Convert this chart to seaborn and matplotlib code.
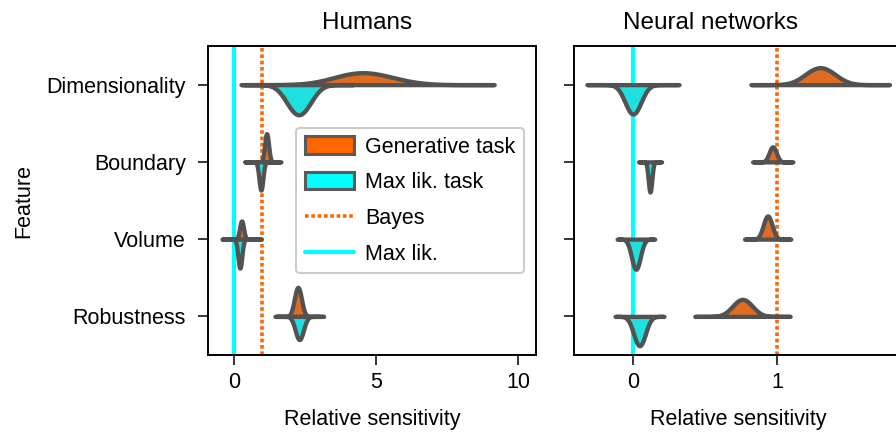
import numpy as np
import pandas as pd
import matplotlib
matplotlib.use("Agg")
import matplotlib.pyplot as plt
from matplotlib.patches import Patch
from matplotlib.lines import Line2D
import seaborn as sns

# ---------------- data ----------------
features = ["Dimensionality", "Boundary", "Volume", "Robustness"]
tasks = ["Generative task", "Max lik. task"]
panels = ["Humans", "Neural networks"]

# samples of relative sensitivity, one list per feature (order = features)
humans_generative = [
    [3.95, 4.2, 4.5, 4.85, 5.45],
    [1.10, 1.125, 1.15, 1.175, 1.20],
    [0.22, 0.245, 0.27, 0.295, 0.32],
    [2.16, 2.205, 2.25, 2.295, 2.34],
]
humans_maxlik = [
    [1.98, 2.13, 2.28, 2.43, 2.58],
    [0.90, 0.925, 0.95, 0.975, 1.00],
    [0.16, 0.185, 0.21, 0.235, 0.26],
    [2.196, 2.248, 2.30, 2.352, 2.404],
]
networks_generative = [
    [1.226, 1.263, 1.30, 1.337, 1.374],
    [0.952, 0.961, 0.97, 0.979, 0.988],
    [0.913, 0.924, 0.935, 0.946, 0.957],
    [0.711, 0.735, 0.76, 0.785, 0.809],
]
networks_maxlik = [
    [-0.04, -0.02, 0.0, 0.02, 0.04],
    [0.109, 0.1135, 0.118, 0.1225, 0.127],
    [-0.002, 0.009, 0.02, 0.031, 0.042],
    [0.016, 0.030, 0.045, 0.060, 0.074],
]

bayes_value = 1.0
maxlik_value = 0.0

# ---------------- style (per-violin drawing parameters) ----------------
cut_style = {
    ("Humans", "Generative task"): [4.35, 7.9, 11.0, 6.4],
    ("Humans", "Max lik. task"): [4.7, 8.9, 9.6, 6.3],
    ("Neural networks", "Generative task"): [4.8, 5.9, 5.5, 5.0],
    ("Neural networks", "Max lik. task"): [6.1, 6.9, 4.3, 4.2],
}
width_style = {
    ("Humans", "Generative task"): [0.31, 0.73, 0.47, 0.75],
    ("Humans", "Max lik. task"): [0.78, 0.73, 0.75, 0.60],
    ("Neural networks", "Generative task"): [0.44, 0.39, 0.60, 0.44],
    ("Neural networks", "Max lik. task"): [0.76, 0.78, 0.78, 0.76],
}
BW_ADJUST = 2.0

ORANGE = "#FF6600"
CYAN = "#00FFFF"
GRAY = "#525252"
palette = {tasks[0]: ORANGE, tasks[1]: CYAN}

sns.set_style("ticks")
plt.rcParams["font.family"] = ["Liberation Sans", "DejaVu Sans"]
plt.rcParams.update({
    "text.color": "black", "axes.labelcolor": "black",
    "xtick.color": "black", "ytick.color": "black", "axes.edgecolor": "black",
})
FS = 15.5

data_map = {
    ("Humans", "Generative task"): humans_generative,
    ("Humans", "Max lik. task"): humans_maxlik,
    ("Neural networks", "Generative task"): networks_generative,
    ("Neural networks", "Max lik. task"): networks_maxlik,
}

fig = plt.figure(figsize=(8.96, 4.32), dpi=100)
ax_h = fig.add_axes([208 / 896, 77 / 432, 328 / 896, 309 / 432])
ax_n = fig.add_axes([574 / 896, 77 / 432, 328 / 896, 309 / 432])
axes = {"Humans": ax_h, "Neural networks": ax_n}

for panel, ax in axes.items():
    for task in tasks:
        samples = data_map[(panel, task)]
        for i, feat in enumerate(features):
            df = pd.DataFrame({"value": samples[i], "feature": feat, "task": task})
            sns.violinplot(
                data=df, x="value", y="feature", hue="task",
                order=features, hue_order=tasks, palette=palette,
                split=True, dodge=True, inner=None,
                cut=cut_style[(panel, task)][i],
                width=width_style[(panel, task)][i],
                bw_adjust=BW_ADJUST,
                density_norm="width", gridsize=400,
                linewidth=3.1, linecolor=GRAY, legend=False, ax=ax,
            )
    ax.axvline(maxlik_value, color=CYAN, lw=3.0, zorder=0.5)
    ax.axvline(bayes_value, color=ORANGE, lw=2.6, ls=(0, (1, 0.75)), zorder=0.5)
    ax.set_ylim(3.5, -0.5)
    ax.set_xlabel("Relative sensitivity", fontsize=FS, labelpad=12)
    ax.tick_params(axis="both", labelsize=FS, length=7, width=1.1,
                   color="black", labelcolor="black")
    ax.tick_params(axis="y", pad=9)
    ax.tick_params(axis="x", pad=5)
    for sp in ax.spines.values():
        sp.set_linewidth(1.4)
        sp.set_color("black")

ax_h.set_xlim(-0.91, 10.62)
ax_h.set_xticks([0, 5, 10])
ax_h.set_ylabel("Feature", fontsize=FS, labelpad=9)
ax_h.set_title("Humans", fontsize=17.5, pad=12.5, x=0.486, color="black")

ax_n.set_xlim(-0.41, 1.868)
ax_n.set_xticks([0, 1])
ax_n.set_ylabel("")
ax_n.tick_params(axis="y", labelleft=False)
ax_n.set_title("Neural networks", fontsize=17.5, pad=12.5, x=0.415, color="black")

handles = [
    Patch(facecolor=ORANGE, edgecolor="#5a5a5a", linewidth=2.2, label=tasks[0]),
    Patch(facecolor=CYAN, edgecolor="#5a5a5a", linewidth=2.2, label=tasks[1]),
    Line2D([0], [0], color=ORANGE, lw=2.6, ls=(0, (1, 0.75)), label="Bayes"),
    Line2D([0], [0], color=CYAN, lw=3.0, label="Max lik."),
]
leg = ax_h.legend(handles=handles, loc="upper right", bbox_to_anchor=(0.963, 0.735),
                  borderaxespad=0, fontsize=FS, handlelength=2.3, handletextpad=0.5,
                  handleheight=0.85, labelspacing=0.68,
                  frameon=True, framealpha=1.0)
leg.get_frame().set_edgecolor("#cccccc")
leg.get_frame().set_linewidth(1.5)
for t in leg.get_texts():
    t.set_color("black")

fig.savefig("out.png", dpi=100)
